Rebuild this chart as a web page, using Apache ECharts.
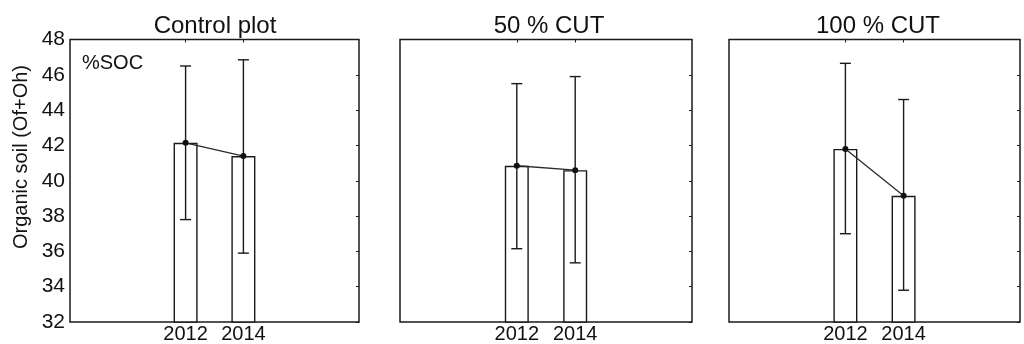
<!DOCTYPE html>
<html>
<head>
<meta charset="utf-8">
<script src="https://cdn.jsdelivr.net/npm/echarts@6/dist/echarts.min.js"></script>
<style>
html,body{margin:0;padding:0;background:#fff;}
#chart{width:1024px;height:344px;}
</style>
</head>
<body>
<div id="chart"></div>
<script>
// ---- data ----
const categories = ['', '', '2012', '2014', '', ''];
const years = ['2012', '2014'];
const panelTitles = ['Control plot', '50 % CUT', '100 % CUT'];
const yAxisName = 'Organic soil (Of+Oh)';
const insideLabel = '%SOC';
const yMin = 32, yMax = 48, yStep = 2;

const controlMean = [42.15, 41.4];
const controlLow  = [37.8, 35.9];
const controlHigh = [46.5, 46.85];

const cut50Mean = [40.85, 40.6];
const cut50Low  = [36.15, 35.35];
const cut50High = [45.5, 45.9];

const cut100Mean = [41.8, 39.15];
const cut100Low  = [37.0, 33.8];
const cut100High = [46.65, 44.6];

const panels = [
  {mean: controlMean, low: controlLow, high: controlHigh},
  {mean: cut50Mean, low: cut50Low, high: cut50High},
  {mean: cut100Mean, low: cut100Low, high: cut100High}
];

// ---- layout ----
const FONT = 'Liberation Sans, Arial, sans-serif';
const INK = '#1a1a1a';
const grids = [
  {left: 70, top: 39.5, width: 289, height: 283},
  {left: 400, top: 39.5, width: 292, height: 283},
  {left: 729, top: 39.5, width: 291, height: 283}
];
const titleCenters = [210, 544, 873];

const chart = echarts.init(document.getElementById('chart'), null, {renderer: 'canvas'});
const yearIdx = years.map(y => categories.indexOf(y));

const option = {
  backgroundColor: '#fff',
  animation: false,
  textStyle: {fontFamily: FONT},
  title: panelTitles.map((t, i) => ({
    text: t, left: titleCenters[i], top: 9, textAlign: 'center',
    textStyle: {fontFamily: FONT, fontSize: 24, fontWeight: 'normal', color: '#111'}
  })).concat([{
    text: insideLabel, left: 77, top: 48,
    textStyle: {fontFamily: FONT, fontSize: 20, fontWeight: 'normal', color: '#111'}
  }]),
  graphic: [{
    type: 'text', x: 21, y: 157, rotation: Math.PI / 2,
    style: {text: yAxisName, font: '20px ' + FONT, fill: '#111', textAlign: 'center', textVerticalAlign: 'middle'}
  }],
  grid: grids.map(g => Object.assign({show: true, borderColor: INK, borderWidth: 1.5, backgroundColor: '#fff'}, g)),
  xAxis: [],
  yAxis: [],
  series: []
};

grids.forEach((g, i) => {
  option.xAxis.push({
    type: 'category', gridIndex: i, data: categories, boundaryGap: false,
    axisLine: {show: false}, axisTick: {show: false}, splitLine: {show: false},
    axisLabel: {color: '#111', fontSize: 20, fontFamily: FONT, margin: 2, interval: 0}
  });
  option.xAxis.push({
    type: 'category', gridIndex: i, data: categories, boundaryGap: false, position: 'top',
    axisLine: {show: false}, axisLabel: {show: false}, splitLine: {show: false},
    axisTick: {show: true, inside: true, length: 3, lineStyle: {color: INK}},
  });
  option.xAxis[option.xAxis.length - 1].axisTick.interval = (idx) => yearIdx.indexOf(idx) >= 0;
  option.yAxis.push({
    type: 'value', gridIndex: i, min: yMin, max: yMax, interval: yStep,
    axisLine: {show: false}, axisTick: {show: false}, splitLine: {show: false},
    axisLabel: {show: i === 0, color: '#111', fontSize: 21, fontFamily: FONT, margin: 5}
  });
  option.yAxis.push({
    type: 'value', gridIndex: i, min: yMin, max: yMax, interval: yStep, position: 'right',
    axisLine: {show: false}, axisLabel: {show: false}, splitLine: {show: false},
    axisTick: {show: true, inside: true, length: 3, lineStyle: {color: INK}}
  });

  const p = panels[i];
  const xi = i * 2, yi = i * 2;
  option.series.push({
    type: 'bar', xAxisIndex: xi, yAxisIndex: yi, barWidth: 24,
    data: p.mean.map((v, k) => [yearIdx[k], v]),
    itemStyle: {color: '#fff', borderColor: INK, borderWidth: 1.4},
    z: 2
  });
  option.series.push({
    type: 'custom', xAxisIndex: xi, yAxisIndex: yi,
    data: p.mean.map((v, k) => [yearIdx[k], p.low[k], p.high[k]]),
    renderItem: function (params, api) {
      const x = api.value(0);
      const lo = api.coord([x, api.value(1)]);
      const hi = api.coord([x, api.value(2)]);
      const hw = 5.5;
      const st = {stroke: INK, lineWidth: 1.4};
      return {type: 'group', children: [
        {type: 'line', shape: {x1: lo[0], y1: lo[1], x2: hi[0], y2: hi[1]}, style: st},
        {type: 'line', shape: {x1: lo[0] - hw, y1: lo[1], x2: lo[0] + hw, y2: lo[1]}, style: st},
        {type: 'line', shape: {x1: hi[0] - hw, y1: hi[1], x2: hi[0] + hw, y2: hi[1]}, style: st}
      ]};
    },
    z: 3
  });
  option.series.push({
    type: 'line', xAxisIndex: xi, yAxisIndex: yi,
    data: p.mean.map((v, k) => [yearIdx[k], v]),
    symbol: 'circle', symbolSize: 6,
    lineStyle: {color: '#2a2a2a', width: 1.3},
    itemStyle: {color: '#111'},
    z: 4
  });
});

chart.setOption(option);
</script>
</body>
</html>
